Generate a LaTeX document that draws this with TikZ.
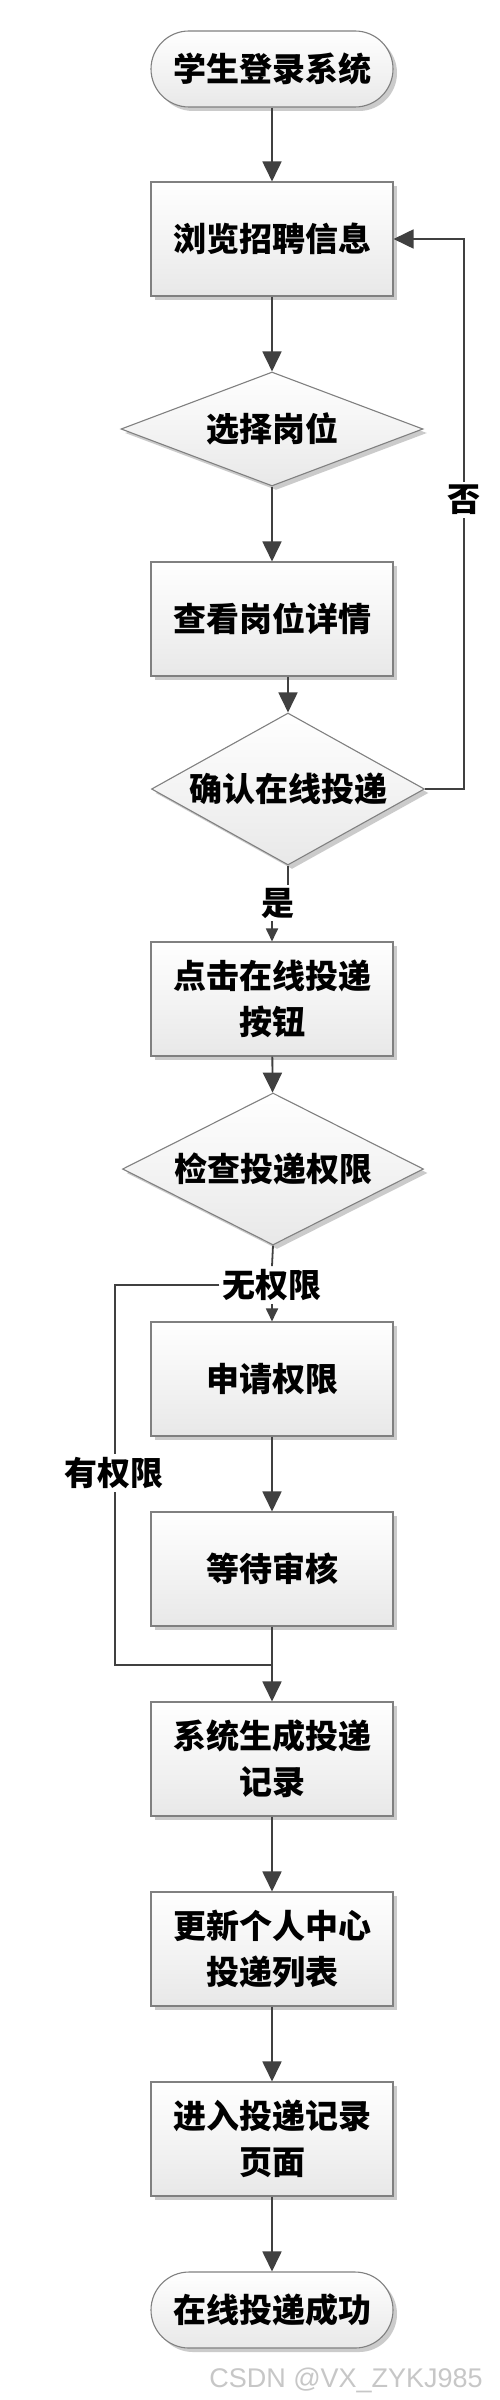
\documentclass[tikz,border=0pt]{standalone}
\usepackage{fontspec}
\newfontfamily\cjk{Noto Sans CJK SC}
\newfontfamily\wmfont{Liberation Sans}
\usetikzlibrary{shapes.geometric,arrows.meta,shadows,calc}
\definecolor{linec}{HTML}{404040}
\definecolor{borderc}{HTML}{808080}
\tikzset{
 base/.style={draw=borderc, line width=1.1pt, top color=white, bottom color=black!9,
   drop shadow={shadow xshift=4pt, shadow yshift=-4pt, fill=black!25, opacity=0.8},
   font=\cjk\bfseries\fontsize{33}{46}\selectfont, align=center, inner sep=0pt, text=black},
 procbox/.style={base, rectangle, minimum width=242pt, minimum height=114pt},
 termbox/.style={base, rectangle, rounded corners=38pt, minimum width=242pt, minimum height=76pt},
 decbox/.style={base, diamond, aspect=2},
 conn/.style={draw=linec, line width=1.8pt},
 arr/.style={conn, -{Triangle[length=20pt,width=19pt]}},
 sarr/.style={conn, -{Triangle[length=13pt,width=12pt]}},
 lbl/.style={font=\cjk\bfseries\fontsize{33}{40}\selectfont, inner sep=3pt, fill=white, text=black},
}
\begin{document}
\begin{tikzpicture}[x=1pt,y=-1pt]
\useasboundingbox (0,0) rectangle (500,2400);
\fill[white] (0,0) rectangle (500,2400);
% nodes
\node[termbox] (start) at (272,69) {学生登录系统};
\node[procbox] (b1) at (272,239) {浏览招聘信息};
\node[decbox, minimum width=302pt, minimum height=114pt] (d1) at (272,429) {选择岗位};
\node[procbox] (b2) at (272,619) {查看岗位详情};
\node[decbox, minimum width=273pt, minimum height=152pt] (d2) at (288,789) {确认在线投递};
\node[procbox] (b3) at (272,999) {点击在线投递\\按钮};
\node[decbox, minimum width=301pt, minimum height=152pt] (d3) at (273,1169) {检查投递权限};
\node[procbox] (b4) at (272,1379) {申请权限};
\node[procbox] (b5) at (272,1569) {等待审核};
\node[procbox] (b6) at (272,1759) {系统生成投递\\记录};
\node[procbox] (b7) at (272,1949) {更新个人中心\\投递列表};
\node[procbox] (b8) at (272,2139) {进入投递记录\\页面};
\node[termbox] (end) at (272,2310) {在线投递成功};
% connectors
\draw[arr] (start) -- (b1);
\draw[arr] (b1) -- (d1);
\draw[arr] (d1) -- (b2);
\draw[arr] (b2.south -| d2.north) -- (d2.north);
\coordinate (nr) at (464,789);
\draw[arr] (d2.east) -- (nr) |- (b1.east);
\node[lbl] (no1) at (464,500) {否};
\node[lbl, fill=none] (yes) at (278,903) {是};
\draw[conn] (d2.south) -- (d2.south |- yes.north);
\draw[sarr] (yes.south -| b3.north) -- (b3.north);
\draw[arr] (b3) -- (d3);
\node[lbl] (noperm) at (272,1285) {无权限};
\draw[conn] (d3.south) -- (noperm.north);
\draw[sarr] (noperm.south) -- (b4.north);
\coordinate (lp) at (115,1665);
\coordinate (jn) at (272,1665);
\draw[conn] (noperm.west) -| (lp) -- (jn);
\node[lbl] (hasperm) at (114,1473) {有权限};
\draw[arr] (b4) -- (b5);
\draw[arr] (b5) -- (b6);
\draw[arr] (b6) -- (b7);
\draw[arr] (b7) -- (b8);
\draw[arr] (b8) -- (end);
\node[font=\wmfont\fontsize{27}{30}\selectfont, text=black!22, anchor=base east, inner sep=0pt] (wm) at (483,2387) {CSDN @VX\_ZYKJ985};
\end{tikzpicture}
\end{document}
